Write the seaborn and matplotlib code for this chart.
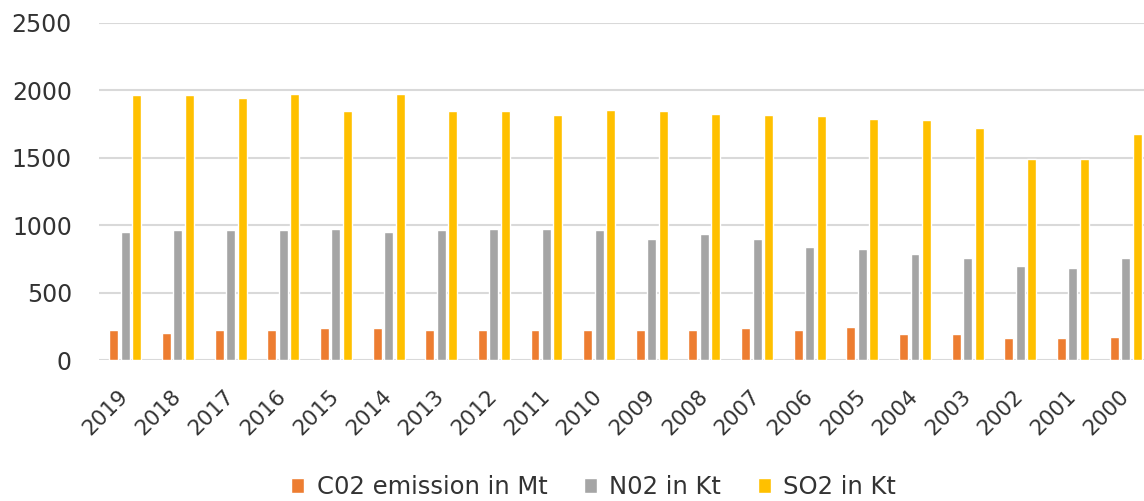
import matplotlib
matplotlib.use("Agg")
import matplotlib.pyplot as plt
import seaborn as sns
import pandas as pd

years = ["2019", "2018", "2017", "2016", "2015", "2014", "2013", "2012", "2011", "2010",
         "2009", "2008", "2007", "2006", "2005", "2004", "2003", "2002", "2001", "2000"]
co2 = [222, 198, 222, 222, 235, 235, 222, 222, 222, 222,
       222, 222, 235, 222, 247, 190, 190, 165, 165, 173]
no2 = [951, 963, 963, 963, 975, 951, 963, 970, 970, 963,
       901, 938, 901, 840, 827, 785, 753, 699, 679, 753]
so2 = [1963, 1963, 1943, 1975, 1844, 1975, 1844, 1844, 1815, 1857,
       1844, 1827, 1820, 1810, 1790, 1778, 1721, 1494, 1494, 1679]
series_names = ["C02 emission in Mt", "N02 in Kt", "SO2 in Kt"]
colors = ["#ED7D31", "#A5A5A5", "#FFC000"]

df = pd.DataFrame({
    "year": years * 3,
    "value": co2 + no2 + so2,
    "series": [series_names[0]] * len(years) + [series_names[1]] * len(years) + [series_names[2]] * len(years),
})

sns.set_theme(style="white")
plt.rcParams["font.family"] = ["DejaVu Sans"]

W, H = 1144, 501
fig = plt.figure(figsize=(W / 100, H / 100), dpi=100)
ax = fig.add_axes([99 / W, (H - 360) / H, (W - 99) / W, 337 / H])

sns.barplot(data=df, x="year", y="value", hue="series", order=years,
            hue_order=series_names, palette=colors, width=0.655, gap=0.22,
            ax=ax, saturation=1, legend=True, zorder=3)

ax.set_ylim(0, 2500)
ax.set_xlim(-0.5, 19.35)
ax.set_yticks([0, 500, 1000, 1500, 2000, 2500])
ax.yaxis.grid(True, color="#d9d9d9", linewidth=1.5, zorder=0)
ax.xaxis.grid(False)
for s in ax.spines.values():
    s.set_visible(False)
ax.set_xlabel("")
ax.set_ylabel("")
txtc = "#333333"
ax.tick_params(axis="y", length=0, pad=19.5, labelsize=17, labelcolor=txtc)
ax.tick_params(axis="x", length=0, pad=24, labelsize=15.5, labelcolor=txtc)
for lab in ax.get_xticklabels():
    lab.set_rotation(45)
    lab.set_ha("right")
    lab.set_va("center")
    lab.set_rotation_mode("anchor")

handles, labels = ax.get_legend_handles_labels()
ax.legend(handles, labels, loc="center", bbox_to_anchor=(0.5 - 28 / (W - 99), (487 - 360) / -337.0),
          bbox_transform=ax.transAxes, ncol=3, frameon=False, fontsize=17.5,
          handlelength=0.55, handleheight=0.55, handletextpad=0.5, columnspacing=1.5,
          labelcolor=txtc)

fig.savefig("out.png", dpi=100)
